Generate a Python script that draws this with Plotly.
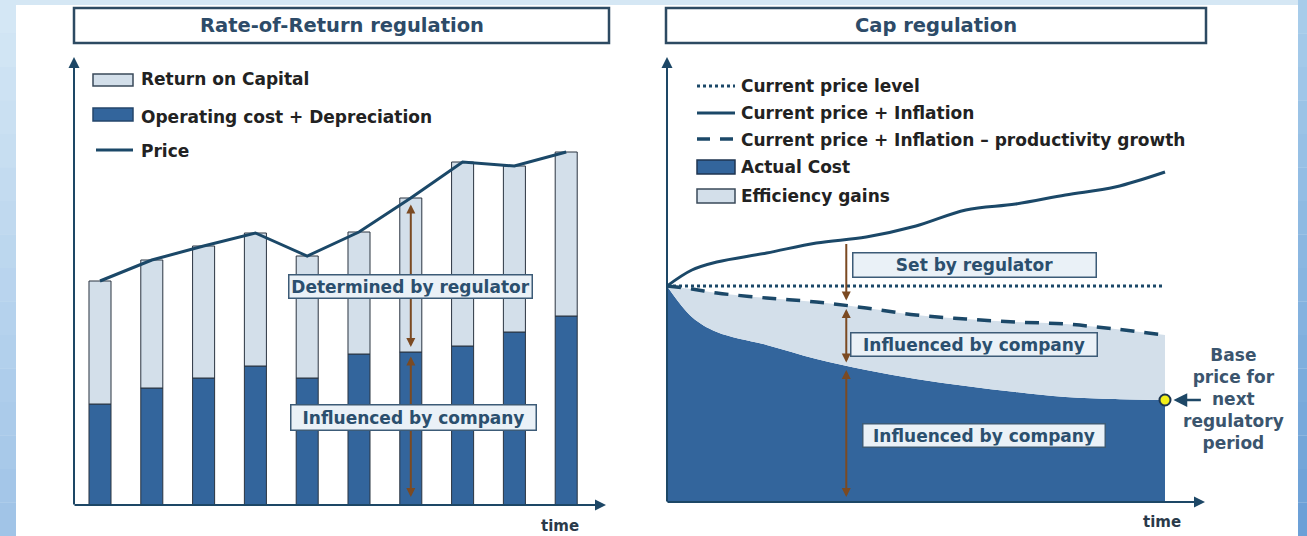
import numpy as np
import plotly.graph_objects as go

W, H = 1307, 536


def X(px):
    return px / W


def Y(py):
    return 1 - py / H


# ---------------- data ----------------
# Left panel: Rate-of-Return regulation (arbitrary units)
periods = [1, 2, 3, 4, 5, 6, 7, 8, 9, 10]
price = [224, 245, 259, 272, 249, 273, 307, 343, 339, 353]
op_cost = [101, 117, 127, 139, 127, 151, 153, 159, 173, 189]
return_on_capital = [p - c for p, c in zip(price, op_cost)]

# Right panel: Cap regulation (arbitrary units)
t = [0, 0.5, 1, 2, 3, 4, 5, 6, 7, 8, 9, 10]
current_level = [216, 216, 216, 216, 216, 216, 216, 216, 216, 216, 216, 216]
inflation = [216, 232, 240, 249, 259, 265, 276, 292, 298, 307, 315, 330]
productivity = [216, 213, 209, 204, 200, 194, 187, 183, 180, 178, 173, 167]
actual_cost = [216, 185, 170, 157, 143, 132, 123, 116, 110, 105, 103, 102]

# ---------------- style ----------------
FONT = "DejaVu Sans"
DARK = "#33659c"
LIGHT = "#d3dfea"
LINE = "#1b4868"
BROWN = "#7b4a22"
AXIS = "#1d4766"
TXT = "#222222"
TITLE = "#2d4b68"
LBL = "#2b4f6e"

fig = go.Figure()

# ---- left panel traces ----
fig.add_trace(go.Bar(x=periods, y=op_cost, width=0.425,
                     marker=dict(color=DARK, line=dict(color="#2a3440", width=1)),
                     xaxis="x", yaxis="y", hoverinfo="skip"))
fig.add_trace(go.Bar(x=periods, y=return_on_capital, base=op_cost, width=0.425,
                     marker=dict(color=LIGHT, line=dict(color="#2a3440", width=1)),
                     xaxis="x", yaxis="y", hoverinfo="skip"))
fig.add_trace(go.Scatter(x=periods, y=price, mode="lines",
                         line=dict(color=LINE, width=3),
                         xaxis="x", yaxis="y", hoverinfo="skip"))

# ---- right panel traces ----
fig.add_trace(go.Scatter(x=t, y=actual_cost, mode="lines", fill="tozeroy",
                         fillcolor=DARK, line=dict(color=DARK, width=0, shape="spline"),
                         xaxis="x2", yaxis="y2", hoverinfo="skip"))
fig.add_trace(go.Scatter(x=t, y=productivity, mode="lines", fill="tonexty",
                         fillcolor=LIGHT, line=dict(color=LIGHT, width=0, shape="spline"),
                         xaxis="x2", yaxis="y2", hoverinfo="skip"))
fig.add_trace(go.Scatter(x=t, y=current_level, mode="lines",
                         line=dict(color=LINE, width=3, dash="dot"),
                         xaxis="x2", yaxis="y2", hoverinfo="skip"))
fig.add_trace(go.Scatter(x=t, y=productivity, mode="lines",
                         line=dict(color=LINE, width=3.5, dash="14px,10px", shape="spline"),
                         xaxis="x2", yaxis="y2", hoverinfo="skip"))
fig.add_trace(go.Scatter(x=t, y=inflation, mode="lines",
                         line=dict(color=LINE, width=3, shape="spline"),
                         xaxis="x2", yaxis="y2", hoverinfo="skip"))
fig.add_trace(go.Scatter(x=[t[-1]], y=[actual_cost[-1]], mode="markers",
                         marker=dict(size=11, color="#f2ef1a", line=dict(color="#1d3550", width=2)),
                         xaxis="x2", yaxis="y2", hoverinfo="skip"))

shapes = []
ann = []


# background: light-blue frame with vertical gradient strips
def mix(c1, c2, f):
    a = [int(c1[i:i + 2], 16) for i in (1, 3, 5)]
    b = [int(c2[i:i + 2], 16) for i in (1, 3, 5)]
    return "#%02x%02x%02x" % tuple(int(round(a[k] + (b[k] - a[k]) * f)) for k in range(3))


NSTEP = 16
for k in range(NSTEP):
    y0p = H * k / NSTEP
    y1p = H * (k + 1) / NSTEP
    f = (k + 0.5) / NSTEP
    shapes.append(dict(type="rect", xref="paper", yref="paper", x0=0, x1=X(16),
                       y0=Y(y1p), y1=Y(y0p), fillcolor=mix("#d6e8f5", "#9fc3e7", f),
                       line=dict(width=0), layer="below"))
    shapes.append(dict(type="rect", xref="paper", yref="paper", x0=X(1298), x1=1,
                       y0=Y(y1p), y1=Y(y0p), fillcolor=mix("#a9cdeb", "#6a9fd6", f),
                       line=dict(width=0), layer="below"))
shapes.append(dict(type="rect", xref="paper", yref="paper", x0=X(16), x1=X(1298),
                   y0=Y(5), y1=1, fillcolor="#d5e7f4", line=dict(width=0), layer="below"))
shapes.append(dict(type="rect", xref="paper", yref="paper", x0=X(16), x1=X(1298),
                   y0=Y(536), y1=Y(5), fillcolor="white", line=dict(width=0), layer="below"))

# title boxes
for (x0, x1, title) in [(74, 609, "Rate-of-Return regulation"), (666, 1206, "Cap regulation")]:
    shapes.append(dict(type="rect", xref="paper", yref="paper", x0=X(x0), x1=X(x1),
                       y0=Y(43), y1=Y(8), fillcolor="white",
                       line=dict(color="#2d4a62", width=2.5), layer="below"))
    ann.append(dict(xref="paper", yref="paper", x=X((x0 + x1) / 2), y=Y(26),
                    text="<b>%s</b>" % title, showarrow=False,
                    font=dict(family=FONT, size=19.5, color=TITLE),
                    xanchor="center", yanchor="middle"))

# axes with arrows
def axis_arrow(hx, hy, ax, ay):
    ann.append(dict(xref="paper", yref="paper", x=X(hx), y=Y(hy), ax=ax, ay=ay,
                    text="", showarrow=True, arrowhead=2, arrowsize=1.1,
                    arrowwidth=2, arrowcolor=AXIS, standoff=0))

axis_arrow(74, 57, 0, 449)
axis_arrow(606, 505, -533, 0)
axis_arrow(667, 57, 0, 446)
axis_arrow(1205, 502, -539, 0)

for (x, y) in [(560, 526), (1162, 522)]:
    ann.append(dict(xref="paper", yref="paper", x=X(x), y=Y(y), text="<b>time</b>",
                    showarrow=False, font=dict(family=FONT, size=15, color="#2a3a4a"),
                    xanchor="center", yanchor="middle"))

# left legend
shapes.append(dict(type="rect", xref="paper", yref="paper", x0=X(93), x1=X(133),
                   y0=Y(86), y1=Y(74), fillcolor=LIGHT, line=dict(color="#3a4a5a", width=1.5)))
shapes.append(dict(type="rect", xref="paper", yref="paper", x0=X(93), x1=X(133),
                   y0=Y(121), y1=Y(108), fillcolor=DARK, line=dict(color="#24456b", width=1.5)))
shapes.append(dict(type="line", xref="paper", yref="paper", x0=X(96), x1=X(133),
                   y0=Y(150), y1=Y(150), line=dict(color=LINE, width=3)))
for (y, txt) in [(79, "Return on Capital"), (117, "Operating cost + Depreciation"), (151, "Price")]:
    ann.append(dict(xref="paper", yref="paper", x=X(139), y=Y(y), text="<b>%s</b>" % txt,
                    showarrow=False, font=dict(family=FONT, size=17, color=TXT),
                    xanchor="left", yanchor="middle"))

# right legend
shapes.append(dict(type="line", xref="paper", yref="paper", x0=X(697), x1=X(735),
                   y0=Y(86), y1=Y(86), line=dict(color=LINE, width=3, dash="dot")))
shapes.append(dict(type="line", xref="paper", yref="paper", x0=X(697), x1=X(735),
                   y0=Y(113), y1=Y(113), line=dict(color=LINE, width=3)))
shapes.append(dict(type="line", xref="paper", yref="paper", x0=X(697), x1=X(737),
                   y0=Y(139), y1=Y(139), line=dict(color=LINE, width=3.5, dash="13px,10px")))
shapes.append(dict(type="rect", xref="paper", yref="paper", x0=X(697), x1=X(735),
                   y0=Y(174), y1=Y(160), fillcolor=DARK, line=dict(color="#1f3550", width=1.5)))
shapes.append(dict(type="rect", xref="paper", yref="paper", x0=X(697), x1=X(735),
                   y0=Y(203), y1=Y(189), fillcolor=LIGHT, line=dict(color="#3a4a5a", width=1.5)))
for (y, txt) in [(86, "Current price level"), (113, "Current price + Inflation"),
                 (140, "Current price + Inflation – productivity growth"),
                 (167, "Actual Cost"), (196, "Efficiency gains")]:
    ann.append(dict(xref="paper", yref="paper", x=X(739), y=Y(y), text="<b>%s</b>" % txt,
                    showarrow=False, font=dict(family=FONT, size=17, color=TXT),
                    xanchor="left", yanchor="middle"))

# brown arrows (left, at period 7)
i7 = 6
def brown(xref, yref, x, y_head, y_tail, both=True):
    ann.append(dict(xref=xref, yref=yref, axref=xref, ayref=yref, x=x, y=y_head,
                    ax=x, ay=y_tail, text="", showarrow=True, arrowhead=2,
                    arrowsize=0.9, arrowwidth=2, arrowcolor=BROWN,
                    arrowside="end+start" if both else "end", standoff=0, startstandoff=0))

brown("x", "y", periods[i7], op_cost[i7] + 5, price[i7] - 5)
brown("x", "y", periods[i7], 8, op_cost[i7] - 3)

# brown arrows (right)
ta = 3.6
infl_a = float(np.interp(ta, t, inflation))
prod_a = float(np.interp(ta, t, productivity))
cost_a = float(np.interp(ta, t, actual_cost))
brown("x2", "y2", ta, prod_a + 5, infl_a - 3, both=False)
brown("x2", "y2", ta, cost_a + 3, prod_a - 2)
brown("x2", "y2", ta, 5, cost_a - 3)

# arrow pointing at base price marker
ann.append(dict(xref="x2", yref="y2", axref="x2", ayref="y2", x=t[-1] + 0.17, y=actual_cost[-1],
                ax=t[-1] + 0.75, ay=actual_cost[-1], text="", showarrow=True, arrowhead=2,
                arrowsize=1.1, arrowwidth=2.5, arrowcolor=AXIS, standoff=0))

ann.append(dict(xref="paper", yref="paper", x=X(1233), y=Y(398.5),
                text="<b>Base<br>price for<br>next<br>regulatory<br>period</b>",
                showarrow=False, align="center",
                font=dict(family=FONT, size=17, color="#3b556e"),
                xanchor="center", yanchor="middle"))

# label boxes
def label_box(x0, x1, y0, y1, txt):
    bw, pad = 1.5, 1
    ann.append(dict(xref="paper", yref="paper", x=X((x0 + x1) / 2), y=Y((y0 + y1) / 2),
                    text="<b>%s</b>" % txt, showarrow=False,
                    width=(x1 - x0) - 2 * (bw + pad), height=(y1 - y0) - 2 * (bw + pad),
                    bgcolor="#eaf1f7", bordercolor="#3c5b77", borderwidth=bw, borderpad=pad,
                    font=dict(family=FONT, size=17, color=LBL),
                    xanchor="center", yanchor="middle", align="center", valign="middle"))

label_box(288, 533, 274, 299, "Determined by regulator")
label_box(290, 537, 404, 431, "Influenced by company")
label_box(852, 1097, 252, 278, "Set by regulator")
label_box(850, 1098, 332, 357, "Influenced by company")
label_box(862, 1106, 423, 448, "Influenced by company")

bar_step = 51.8  # px between bar centres
fig.update_layout(
    width=W, height=H, margin=dict(l=0, r=0, t=0, b=0),
    paper_bgcolor="#cde1f1", plot_bgcolor="rgba(0,0,0,0)",
    showlegend=False, barmode="overlay", hovermode=False,
    xaxis=dict(domain=[X(74), X(606)], range=[1 - (100 - 74) / bar_step, 1 + (606 - 100) / bar_step],
               visible=False, fixedrange=True),
    yaxis=dict(domain=[Y(505), Y(57)], range=[0, 448], visible=False, fixedrange=True),
    xaxis2=dict(domain=[X(667), X(1205)], range=[0, (1205 - 667) / 49.8],
                visible=False, fixedrange=True, anchor="y2"),
    yaxis2=dict(domain=[Y(502), Y(57)], range=[0, 445], visible=False, fixedrange=True, anchor="x2"),
    shapes=shapes, annotations=ann,
)

fig.write_html("out.html", config={"displayModeBar": False},
               post_script="document.body.style.margin='0';document.body.style.overflow='hidden';")
